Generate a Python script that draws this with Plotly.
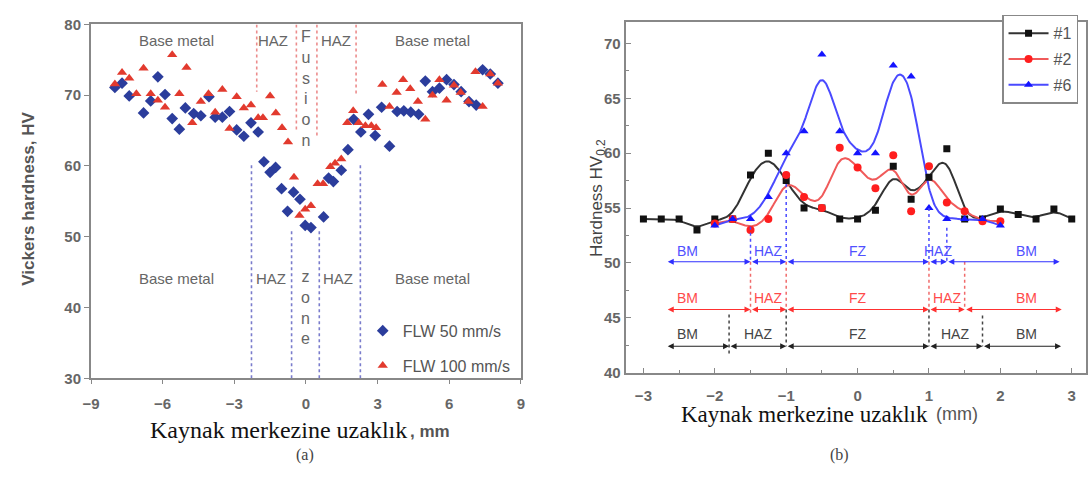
import numpy as np
import plotly.graph_objects as go

# ---------------- data: panel (a) ----------------
a_blue_x = [-8.0, -7.7, -7.4, -6.8, -6.5, -6.2, -5.9, -5.6, -5.3, -5.05, -4.7, -4.4, -4.06, -3.8, -3.5, -3.2,
            -2.9, -2.6, -2.3, -2.0, -1.76, -1.5, -1.27, -1.02, -0.77, -0.52, -0.25, -0.03, 0.21, 0.74, 0.95,
            1.15, 1.48, 1.76, 2.0, 2.3, 2.62, 2.9, 3.17, 3.5, 3.82, 4.1, 4.39, 4.72, 5.0, 5.3, 5.59, 5.89,
            6.2, 6.5, 6.83, 7.13, 7.4, 7.72, 8.04]
a_blue_y = [71.1, 71.7, 69.9, 67.5, 69.2, 72.6, 70.1, 66.7, 65.2, 68.2, 67.4, 67.1, 69.8, 66.9, 66.9, 67.7,
            65.1, 64.2, 66.1, 64.8, 60.6, 59.1, 59.8, 56.8, 53.6, 56.3, 55.3, 51.6, 51.3, 52.8, 58.3,
            57.8, 59.4, 62.3, 66.6, 64.8, 67.3, 64.3, 68.3, 62.8, 67.7, 67.8, 67.6, 67.3, 72.0, 70.5, 71.0, 72.2,
            71.5, 70.5, 69.1, 68.6, 73.6, 73.0, 71.7]
a_red_x = [-8.0, -7.7, -7.4, -7.1, -6.8, -6.5, -6.2, -5.9, -5.6, -5.3, -5.0, -4.76, -4.4, -4.08, -3.8, -3.5,
           -3.2, -2.9, -2.6, -2.3, -2.0, -1.8, -1.5, -1.26, -1.0, -0.75, -0.5, -0.27, -0.03, 0.21, 0.49, 0.72,
           1.02, 1.22, 1.48, 1.73, 1.98, 2.21, 2.49, 2.74, 2.94, 3.2, 3.5, 3.8, 4.07, 4.37, 4.69, 5.0, 5.3,
           5.59, 5.89, 6.2, 6.48, 6.8, 7.1, 7.4, 7.72, 8.04]
a_red_y = [71.6, 73.2, 72.4, 70.2, 73.8, 70.2, 69.3, 68.3, 75.7, 70.2, 73.9, 66.1, 69.1, 70.2, 67.6, 70.8,
           65.3, 69.8, 68.2, 68.6, 66.8, 66.8, 69.9, 67.5, 65.4, 63.4, 58.4, 53.0, 53.9, 54.4, 57.5, 57.5,
           59.9, 60.4, 61.0, 66.1, 67.8, 66.1, 65.7, 65.7, 65.4, 71.5, 68.4, 70.4, 72.2, 70.9, 69.1, 66.6, 70.0,
           72.2, 69.3, 71.4, 70.4, 69.1, 73.3, 68.4, 73.0, 71.7]
a_names = ["FLW 50 mm/s", "FLW 100 mm/s"]
a_x_ticks = [-9, -6, -3, 0, 3, 6, 9]
a_y_ticks = [30, 40, 50, 60, 70, 80]
# zone boundary lines: (x, y_end) red from top, blue from bottom
a_red_bounds = [(-2.06, 70.5), (-0.4, 64.8), (0.46, 64.0), (2.1, 70.0)]
a_blue_bounds = [(-2.28, 60.4), (-0.6, 50.9), (0.56, 50.9), (2.28, 60.4)]

# ---------------- data: panel (b) ----------------
b1_x = [-3, -2.75, -2.5, -2.25, -2, -1.75, -1.5, -1.25, -1, -0.75, -0.5, -0.25, 0, 0.25, 0.5, 0.75, 1, 1.25,
        1.5, 1.75, 2, 2.25, 2.5, 2.75, 3]
b1_y = [54, 54, 54, 53, 54, 54, 58, 60, 57.5, 55, 55, 54, 54, 54.8, 58.8, 55.8, 57.8, 60.4,
        54, 54, 54.9, 54.4, 54, 54.9, 54]
b2_x = [-2, -1.75, -1.5, -1.25, -1, -0.75, -0.5, -0.25, 0, 0.25, 0.5, 0.75, 1, 1.25, 1.5, 1.75, 2]
b2_y = [53.6, 54, 53, 54, 58, 56, 55, 60.5, 58.7, 56.8, 59.8, 54.7, 58.8, 55.5, 54.7, 53.8, 53.8]
b6_x = [-2, -1.75, -1.5, -1.25, -1, -0.75, -0.5, -0.25, 0, 0.25, 0.5, 0.75, 1, 1.25, 1.5, 1.75, 2]
b6_y = [53.4, 54, 54, 56, 60, 62, 69, 62, 60, 60, 68, 67, 55, 54, 54, 54, 53.4]
b_names = ["#1", "#2", "#6"]
b_x_ticks = [-3, -2, -1, 0, 1, 2, 3]
b_y_ticks = [40, 45, 50, 55, 60, 65, 70]
zone_labels = ["BM", "HAZ", "FZ", "HAZ", "BM"]
b6_bounds = [-2.68, -1.5, -1.0, 1.0, 1.25, 2.83]
b2_bounds = [-2.68, -1.5, -1.0, 1.0, 1.5, 2.86]
b1_bounds = [-2.68, -1.8, -1.0, 1.0, 1.75, 2.85]
b6_label_x = [-2.38, -1.25, 0.0, 1.12, 2.37]
b2_label_x = [-2.38, -1.25, 0.0, 1.25, 2.37]
b1_label_x = [-2.38, -1.4, 0.0, 1.37, 2.37]
b_row_y = {"#6": 50.1, "#2": 45.75, "#1": 42.4}
b_label_y = {"#6": 51.1, "#2": 46.8, "#1": 43.5}
# dotted zone lines: (x, y_top, y_bottom)
b6_dots = [(-1.5, 53.3, 50.1), (-1.0, 57.2, 50.1), (1.0, 55.0, 50.1), (1.25, 53.2, 50.1)]
b2_dots = [(-1.5, 50.1, 45.3), (-1.0, 50.1, 45.75), (1.0, 50.1, 45.75), (1.5, 50.1, 45.75)]
b1_dots = [(-1.8, 45.3, 41.7), (-1.0, 45.75, 42.4), (1.0, 45.75, 42.4), (1.75, 45.2, 42.4)]


def bspline(xs, ys, n=24):
    P = np.column_stack([np.asarray(xs, float), np.asarray(ys, float)])
    P = np.vstack([2 * P[0] - P[1], P, 2 * P[-1] - P[-2]])
    pts = []
    for i in range(1, len(P) - 2):
        for t in np.linspace(0, 1, n, endpoint=False):
            b0 = (1 - t) ** 3 / 6
            b1 = (3 * t ** 3 - 6 * t ** 2 + 4) / 6
            b2 = (-3 * t ** 3 + 3 * t ** 2 + 3 * t + 1) / 6
            b3 = t ** 3 / 6
            pts.append(b0 * P[i - 1] + b1 * P[i] + b2 * P[i + 1] + b3 * P[i + 2])
    i = len(P) - 3
    pts.append((P[i] + 4 * P[i + 1] + P[i + 2]) / 6)
    pts = np.array(pts)
    return pts[:, 0], pts[:, 1]


SANS = "Liberation Sans, Arial, sans-serif"
SERIF = "Liberation Serif, Times New Roman, serif"
GRAY = "#666666"
W, H = 1092, 477

fig = go.Figure()

# ---- panel (a) ----
fig.add_trace(go.Scatter(x=a_blue_x, y=a_blue_y, mode="markers", name=a_names[0],
                         marker=dict(symbol="diamond", size=9, color="#2b3d9c"),
                         xaxis="x", yaxis="y", legend="legend", legendgroup="a1"))
fig.add_trace(go.Scatter(x=a_red_x, y=a_red_y, mode="markers", name=a_names[1],
                         marker=dict(symbol="triangle-up", size=9, color="#e23a2e"),
                         xaxis="x", yaxis="y", legend="legend", legendgroup="a2"))

# ---- panel (b) ----
series = [(b1_x, b1_y, "#1", "#111111", "#333333", "square", 7),
          (b2_x, b2_y, "#2", "#ff1e1e", "#f05a5a", "circle", 8),
          (b6_x, b6_y, "#6", "#1414ff", "#4a4aff", "triangle-up", 8)]
for xs, ys, nm, mc, lc, sym, sz in series:
    cx, cy = bspline(xs, ys)
    fig.add_trace(go.Scatter(x=cx, y=cy, mode="lines", line=dict(color=lc, width=2),
                             xaxis="x2", yaxis="y2", showlegend=False, hoverinfo="skip"))
for xs, ys, nm, mc, lc, sym, sz in series:
    fig.add_trace(go.Scatter(x=xs, y=ys, mode="markers", marker=dict(symbol=sym, size=sz, color=mc),
                             xaxis="x2", yaxis="y2", showlegend=False, name=nm))
for xs, ys, nm, mc, lc, sym, sz in series:
    fig.add_trace(go.Scatter(x=[None], y=[None], mode="lines+markers", name=nm,
                             line=dict(color=lc, width=2), marker=dict(symbol=sym, size=sz, color=mc),
                             xaxis="x2", yaxis="y2", legend="legend2", legendgroup="b" + nm))

shapes = []
annotations = []

# panel (a) dashed boundaries
for xv, yend in a_red_bounds:
    shapes.append(dict(type="line", xref="x", yref="y", x0=xv, x1=xv, y0=80, y1=yend,
                       line=dict(color="#ec8c8c", width=1.6, dash="3px,3px")))
for xv, yend in a_blue_bounds:
    shapes.append(dict(type="line", xref="x", yref="y", x0=xv, x1=xv, y0=30, y1=yend,
                       line=dict(color="#7a7ccc", width=1.6, dash="3px,3px")))


def a_text(x, y, t, size=15):
    annotations.append(dict(x=x, y=y, xref="x", yref="y", text=t, showarrow=False,
                            font=dict(family=SANS, size=size, color="#666666")))


a_text(-5.4, 77.7, "Base metal")
a_text(5.3, 77.7, "Base metal")
a_text(-1.39, 77.7, "HAZ")
a_text(1.25, 77.7, "HAZ")
a_text(-5.4, 44.1, "Base metal")
a_text(5.3, 44.1, "Base metal")
a_text(-1.47, 44.1, "HAZ")
a_text(1.35, 44.1, "HAZ")
a_text(0.02, 70.9, "F<br>u<br>s<br>i<br>o<br>n", 16)
a_text(0.0, 40.0, "z<br>o<br>n<br>e", 16)

# panel (b) dotted lines and arrows
for dots, col in [(b6_dots, "#4a4aff"), (b2_dots, "#f06a6a"), (b1_dots, "#444444")]:
    for xv, yt, yb in dots:
        shapes.append(dict(type="line", xref="x2", yref="y2", x0=xv, x1=xv, y0=yt, y1=yb,
                           line=dict(color=col, width=1.5, dash="dot")))

rows = [("#6", b6_bounds, b6_label_x, "#3030ff", "#5050ff"),
        ("#2", b2_bounds, b2_label_x, "#ff3030", "#ff4a4a"),
        ("#1", b1_bounds, b1_label_x, "#222222", "#444444")]
for nm, bounds, lx, col, tcol in rows:
    yr = b_row_y[nm]
    for i in range(len(bounds) - 1):
        annotations.append(dict(x=bounds[i + 1], y=yr, ax=bounds[i], ay=yr, xref="x2", yref="y2",
                                axref="x2", ayref="y2", text="", showarrow=True, arrowside="end+start",
                                arrowhead=2, arrowsize=1.0, arrowwidth=1.2, arrowcolor=col,
                                standoff=0, startstandoff=0))
    for xv, t in zip(lx, zone_labels):
        annotations.append(dict(x=xv, y=b_label_y[nm], xref="x2", yref="y2", text=t, showarrow=False,
                                font=dict(family=SANS, size=14, color=tcol)))


def paper_text(px, py, text, font, xanchor="center", angle=0):
    annotations.append(dict(x=px / W, y=1 - py / H, xref="paper", yref="paper", xanchor=xanchor,
                            yanchor="middle", text=text, textangle=angle, showarrow=False, font=font))


# axis titles & captions
paper_text(20, 197, "<b>Vickers hardness, HV</b>", dict(family=SANS, size=17, color="#555555"), angle=-90)
paper_text(405, 437, "Kaynak merkezine uzaklık", dict(family=SERIF, size=24, color="#111111"), "right")
paper_text(404, 438, "<b>, mm</b>", dict(family=SANS, size=17, color="#555555"), "left")
paper_text(300, 463, "(a)", dict(family=SERIF, size=16, color="#444444"))
paper_text(596, 196, "Hardness HV<sub>0.2</sub>", dict(family=SANS, size=17, color="#444444"), angle=-90)
paper_text(932, 420, "Kaynak merkezine uzaklık", dict(family=SERIF, size=23, color="#111111"), "right")
paper_text(936, 420, "(mm)", dict(family=SANS, size=18, color="#555555"), "left")
paper_text(840, 462, "(b)", dict(family=SERIF, size=16, color="#444444"))

axis_common = dict(showline=True, linecolor="#888888", linewidth=2, mirror=True, showgrid=False,
                   zeroline=False, tickcolor="#888",
                   tickfont=dict(family=SANS, size=15, color=GRAY, weight="bold"))

fig.update_layout(
    width=W, height=H, margin=dict(l=0, r=0, t=0, b=0),
    paper_bgcolor="white", plot_bgcolor="white",
    xaxis=dict(domain=[83 / W, 518 / W], range=[-9, 9], tickvals=a_x_ticks, ticks="outside",
               ticklen=4, anchor="y", ticklabelstandoff=7, **axis_common),
    yaxis=dict(domain=[1 - 383 / H, 1 - 16 / H], range=[30, 80], tickvals=a_y_ticks, ticks="outside",
               ticklen=5, anchor="x", **axis_common),
    xaxis2=dict(domain=[624 / W, 1090 / W], range=[-3.25, 3.2], tickvals=b_x_ticks, ticks="inside",
                ticklen=5, anchor="y2", ticklabelstandoff=8,
                minor=dict(dtick=0.5, ticks="inside", ticklen=3, tickcolor="#888"), **axis_common),
    yaxis2=dict(domain=[1 - 377 / H, 1 - 13 / H], range=[40, 72], tickvals=b_y_ticks, ticks="inside",
                ticklen=5, anchor="x2",
                minor=dict(dtick=2.5, ticks="inside", ticklen=3, tickcolor="#888"), **axis_common),
    legend=dict(x=358 / W, y=1 - 316 / H, xanchor="left", yanchor="top", bgcolor="rgba(0,0,0,0)",
                font=dict(family=SANS, size=16, color="#555555"), tracegroupgap=11, traceorder="grouped",
                itemwidth=30),
    legend2=dict(x=1005 / W, y=1 - 6 / H, xanchor="left", yanchor="top", bgcolor="white",
                 bordercolor="#888888", borderwidth=1.5, tracegroupgap=2, traceorder="grouped",
                 font=dict(family=SANS, size=16, color="#555555"), itemwidth=40),
    shapes=shapes, annotations=annotations, showlegend=True,
)

fig.write_html("out.html")
